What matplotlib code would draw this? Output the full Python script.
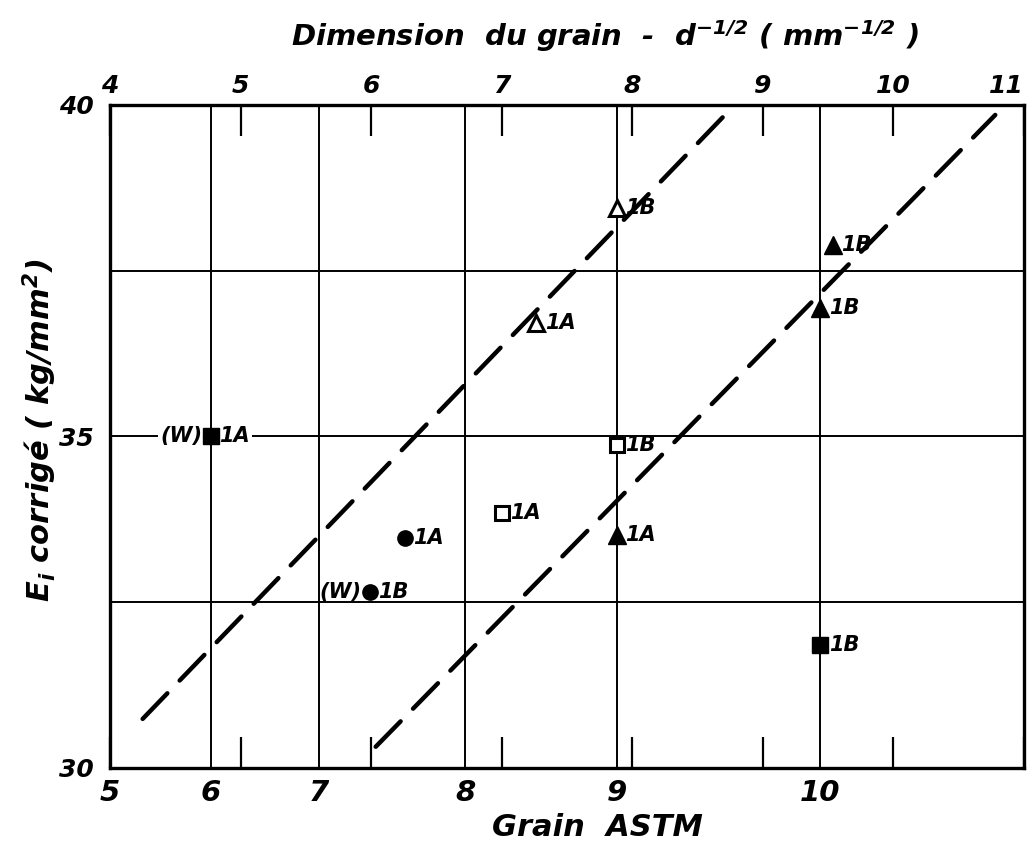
import matplotlib
matplotlib.use("Agg")
import matplotlib.pyplot as plt
import numpy as np

# Grain ASTM scale read against the d^-1/2 scale (top axis)
grain_ticks = [5, 6, 7, 8, 9, 10]
grain_at_u = [4.0, 4.77, 5.60, 6.72, 7.88, 9.44]
u_ticks = [4, 5, 6, 7, 8, 9, 10, 11]
e_ticks = [30, 35, 40]
e_grid = [32.5, 35, 37.5]

# points: grain ASTM, E corrigé, label
open_tri_g = [8.47, 9.0]
open_tri_e = [36.71, 38.45]
open_tri_lab = ["1A", "1B"]

full_tri_g = [9.0, 10.0, 10.06]
full_tri_e = [33.51, 36.94, 37.89]
full_tri_lab = ["1A", "1B", "1B"]

open_sq_g = [8.24, 9.0]
open_sq_e = [33.85, 34.87]
open_sq_lab = ["1A", "1B"]

full_sq_g = [6.0, 10.0]
full_sq_e = [35.0, 31.86]
full_sq_lab = ["1A", "1B"]
full_sq_w = [True, False]

circ_g = [7.59, 7.35]
circ_e = [33.47, 32.65]
circ_lab = ["1A", "1B"]
circ_w = [False, True]

# dashed fit lines (d^-1/2, E)
fit1_u = [4.25, 8.71]
fit1_e = [30.74, 39.85]
fit2_u = [6.035, 10.78]
fit2_e = [30.32, 39.85]


def g_to_u(g):
    g = np.asarray(g, dtype=float)
    u = np.interp(g, grain_ticks, grain_at_u)
    slope = (grain_at_u[-1] - grain_at_u[-2]) / (grain_ticks[-1] - grain_ticks[-2])
    hi = g > grain_ticks[-1]
    u[hi] = grain_at_u[-1] + (g[hi] - grain_ticks[-1]) * slope
    return u


plt.rcParams['font.family'] = ['DejaVu Sans']
plt.rcParams['font.style'] = 'italic'
plt.rcParams['font.weight'] = 'bold'
plt.rcParams['mathtext.fontset'] = 'custom'
plt.rcParams['mathtext.rm'] = 'DejaVu Sans:italic:bold'
plt.rcParams['mathtext.it'] = 'DejaVu Sans:italic:bold'

fig = plt.figure(figsize=(10.34, 8.55), dpi=100)
ax = fig.add_axes([0.1064, 0.1018, 0.8839, 0.7754])
ax.set_xlim(4, 11)
ax.set_ylim(30, 40)
ax.xaxis.remove_overlapping_locs = False

# top scale: d^-1/2
ax.set_xticks(u_ticks)
ax.set_xticklabels([str(t) for t in u_ticks])
ax.tick_params(axis='x', which='major', direction='in', top=True, bottom=True,
               labeltop=True, labelbottom=False, length=22, width=1.6,
               labelsize=18, pad=5)
ax.get_xticklabels()[-1].set_horizontalalignment('right')
# bottom scale: grain ASTM
ax.set_xticks(g_to_u(grain_ticks), minor=True)
ax.set_xticklabels([str(t) for t in grain_ticks], minor=True)
ax.tick_params(axis='x', which='minor', bottom=True, top=False, length=0,
               labelbottom=True, labeltop=False, labelsize=21, pad=8)

ax.set_yticks(e_ticks)
ax.set_yticks(e_grid, minor=True)
ax.tick_params(axis='y', which='both', length=0, labelsize=18, pad=12)

ax.grid(True, which='minor', color='black', linewidth=1.4, zorder=0)
ax.axhline(35, color='black', linewidth=1.4, zorder=0)
ax.set_axisbelow(True)

for s in ax.spines.values():
    s.set_linewidth(2.4)

# dashed fits
for fu, fe in [(fit1_u, fit1_e), (fit2_u, fit2_e)]:
    ax.plot(fu, fe, color='black', linewidth=3.2, dashes=(8, 4),
            dash_capstyle='round', zorder=3)

def put_labels(gs, es, labs, ws=None, dx=6):
    for i, (g, e, lab) in enumerate(zip(gs, es, labs)):
        u = g_to_u([g])[0]
        kw = dict(textcoords='offset points', fontsize=15, va='center', zorder=2)
        if e in e_grid:
            kw['bbox'] = dict(boxstyle='square,pad=0.1', fc='white', ec='none')
        ax.annotate(lab, (u, e), xytext=(dx, 0), ha='left', **kw)
        if ws is not None and ws[i]:
            ax.annotate("(W)", (u, e), xytext=(-dx, 0), ha='right', **kw)

ax.plot(g_to_u(open_tri_g), open_tri_e, linestyle='none', marker='^', ms=12,
        mfc='white', mec='black', mew=2.2, zorder=4)
put_labels(open_tri_g, open_tri_e, open_tri_lab)

ax.plot(g_to_u(full_tri_g), full_tri_e, linestyle='none', marker='^', ms=13,
        color='black', zorder=4)
put_labels(full_tri_g, full_tri_e, full_tri_lab)

ax.plot(g_to_u(open_sq_g), open_sq_e, linestyle='none', marker='s', ms=10,
        mfc='white', mec='black', mew=2.2, zorder=4)
put_labels(open_sq_g, open_sq_e, open_sq_lab)

ax.plot(g_to_u(full_sq_g), full_sq_e, linestyle='none', marker='s', ms=12,
        color='black', zorder=4)
put_labels(full_sq_g, full_sq_e, full_sq_lab, full_sq_w)

ax.plot(g_to_u(circ_g), circ_e, linestyle='none', marker='o', ms=11,
        color='black', zorder=4)
put_labels(circ_g, circ_e, circ_lab, circ_w)

fig.text(0.585, 0.958, r'Dimension  du grain  -  d$^{-1/2}$ ( mm$^{-1/2}$ )',
         ha='center', va='center', fontsize=21)
fig.text(0.578, 0.032, 'Grain  ASTM', ha='center', va='center', fontsize=22)
fig.text(0.038, 0.497, r'E$_i$ corrigé ( kg/mm$^2$)', ha='center', va='center',
         rotation=90, fontsize=22)

fig.savefig("out.png", dpi=100)
